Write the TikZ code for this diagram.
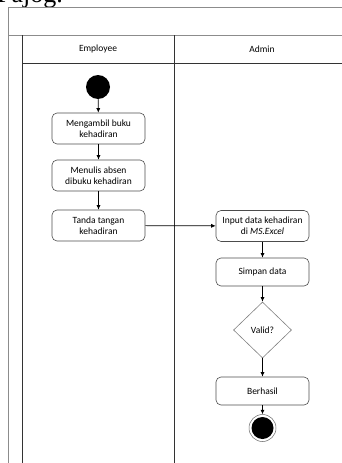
\documentclass[tikz,border=0pt]{standalone}
\usepackage{fontspec}
\setmainfont{Carlito}
\newfontfamily\headserif{Liberation Serif}
\usetikzlibrary{shapes.geometric,arrows.meta}

\begin{document}
\begin{tikzpicture}[x=1pt,y=-1pt,
  act/.style={draw=black!70, rounded corners=5pt, line width=0.6pt,
    minimum width=93pt, minimum height=31pt, align=center, inner sep=1pt,
    font=\fontsize{9.5}{11}\selectfont},
  decision/.style={diamond, draw=black!50, line width=0.6pt, inner sep=0pt,
    minimum width=58pt, minimum height=56pt, font=\fontsize{9.5}{11}\selectfont},
  flow/.style={-{Latex[length=4.5pt,width=4pt]}, line width=0.7pt},
  lane/.style={line width=0.7pt, draw=black!80},
  outer/.style={line width=0.6pt, draw=black!45},
  lanehead/.style={font=\fontsize{9.5}{11}\selectfont}]

\useasboundingbox (0,0) rectangle (341,463);

% caption fragment above the diagram
\node[anchor=base west, inner sep=0pt, font=\headserif\fontsize{26}{28}\selectfont]
  (cap) at (-3,2.5) {Pajog.};

% pool frame and swimlanes
\draw[outer] (8,463) -- (8,7) -- (345,7);
\draw[outer] (8,35) -- (345,35);
\draw[lane] (22,463) -- (22,35);
\draw[lane] (22,63) -- (345,63);
\draw[lane] (174,35) -- (174,463);
\node[lanehead] (empl) at (98,49) {Employee};
\node[lanehead] (admin) at (262,49) {Admin};

% activities
\node[circle, fill=black, minimum size=24pt, inner sep=0pt] (start) at (98,87) {};
\node[act] (b1) at (98.5,128.5) {Mengambil buku\\kehadiran};
\node[act] (b2) at (98.5,175.5) {Menulis absen\\dibuku kehadiran};
\node[act] (b3) at (98.5,225.5) {Tanda tangan\\kehadiran};
\node[act] (b4) at (262.5,226) {Input data kehadiran\\di \textit{MS.Excel}};
\node[act, minimum height=28pt] (b5) at (262.5,272) {Simpan data};
\node[decision] (d) at (262.5,330) {Valid?};
\node[act, minimum height=28pt] (b6) at (262.5,391) {Berhasil};
\node[circle, draw=black!60, line width=0.5pt, minimum size=27pt, inner sep=0pt] (end) at (262.5,428) {};
\node[circle, fill=black, minimum size=22pt, inner sep=0pt] (endin) at (end) {};

% control flow
\draw[flow] (start) -- (b1);
\draw[flow] (b1) -- (b2);
\draw[flow] (b2) -- (b3);
\draw[flow] (b3) -- (b4);
\draw[flow] (b4) -- (b5);
\draw[flow] (b5) -- (d);
\draw[flow] (d) -- (b6);
\draw[flow] (b6) -- (end);
\end{tikzpicture}
\end{document}
